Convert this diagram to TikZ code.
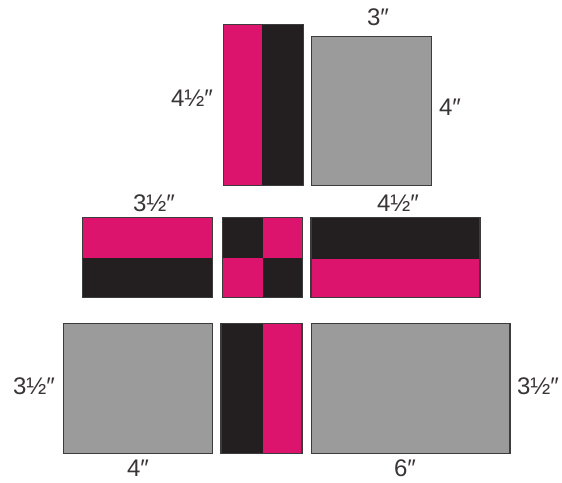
\documentclass[tikz,border=0pt]{standalone}
\usepackage{fontspec}
\setmainfont{Liberation Sans}
\definecolor{qpink}{HTML}{DC146E}
\definecolor{qblack}{HTML}{231F20}
\definecolor{qgray}{HTML}{9B9B9B}
\definecolor{qedge}{HTML}{3C3C3C}
\begin{document}
\begin{tikzpicture}[x=1pt,y=-1pt,
  pinkpc/.style={fill=qpink},
  blackpc/.style={fill=qblack},
  graypc/.style={fill=qgray},
  outline/.style={draw=qedge,line width=1.1pt},
  dim/.style={inner sep=0pt,font=\fontsize{24}{26}\selectfont,text=qblack!90}]
\useasboundingbox (0,0) rectangle (562,482);
% top row
\fill[pinkpc] (223.3,24.3) rectangle (262,185.7);
\fill[blackpc] (262,24.3) rectangle (303.3,185.7);
\draw[outline] (223.3,24.3) rectangle (303.3,185.7);
\draw[outline,graypc] (311.7,36.7) rectangle (431.7,185.7);
% middle row
\fill[pinkpc] (82.7,217.7) rectangle (212.7,258.3);
\fill[blackpc] (82.7,258.3) rectangle (212.7,297.3);
\draw[outline] (82.7,217.7) rectangle (212.7,297.3);
\fill[blackpc] (222.7,217.7) rectangle (262.7,258.3);
\fill[pinkpc] (262.7,217.7) rectangle (302.7,258.3);
\fill[pinkpc] (222.7,258.3) rectangle (262.7,297.3);
\fill[blackpc] (262.7,258.3) rectangle (302.7,297.3);
\draw[outline] (222.7,217.7) rectangle (302.7,297.3);
\fill[blackpc] (311,217.7) rectangle (480,259);
\fill[pinkpc] (311,259) rectangle (480,297.3);
\draw[outline] (311,217.7) rectangle (480,297.3);
% bottom row
\draw[outline,graypc] (63.3,323.3) rectangle (212.7,453.3);
\fill[blackpc] (221,323.3) rectangle (262.7,453.3);
\fill[pinkpc] (262.7,323.3) rectangle (302,453.3);
\draw[outline] (221,323.3) rectangle (302,453.3);
\draw[outline,graypc] (311.7,323.3) rectangle (510,453.3);
% labels
\node[dim] (l1) at (378,17) {3″};
\node[dim] (l2) at (192,98) {4½″};
\node[dim] (l3) at (450,107) {4″};
\node[dim] (l4) at (154,203) {3½″};
\node[dim] (l5) at (398,203) {4½″};
\node[dim] (l6) at (34,386) {3½″};
\node[dim] (l7) at (538,386) {3½″};
\node[dim] (l8) at (138,468) {4″};
\node[dim] (l9) at (405,468) {6″};
\end{tikzpicture}
\end{document}
